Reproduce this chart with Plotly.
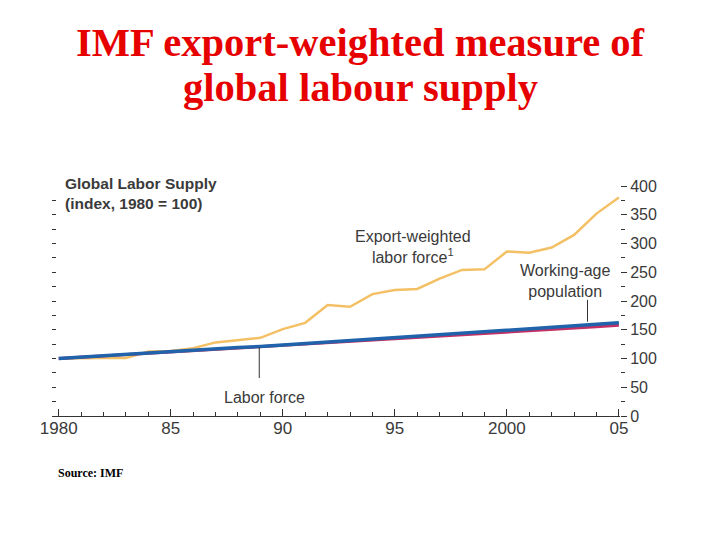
import plotly.graph_objects as go

years = list(range(1980, 2006))
export_weighted = [100, 101, 101, 101, 112, 113, 118, 128, 132, 136, 151, 162, 193, 190,
                   212, 219, 221, 239, 254, 255, 286, 284, 293, 315, 352, 380]
labor_force = [100, 102.5, 105, 107.5, 110, 112, 114.5, 116.5, 119, 121, 123.5, 126, 128.5, 131,
               133.5, 136, 138.5, 141, 143.5, 146, 148.5, 151, 153.5, 156, 159, 162]
working_age = [100, 102.3, 104.6, 107, 109.3, 111.5, 113.8, 116, 118.3, 120.5, 122.8, 125, 127.3, 129.5,
               131.8, 134, 136.3, 138.5, 140.8, 143, 145.3, 147.5, 150, 152.5, 155, 158]

x_tickvals = [1980, 1985, 1990, 1995, 2000, 2005]
x_ticktext = ['1980', '85', '90', '95', '2000', '05']

title_lines = ['IMF export-weighted measure of', 'global labour supply']

SANS = 'Liberation Sans, Arial, Helvetica, sans-serif'
SERIF = 'Liberation Serif, Times New Roman, serif'
TXT = '#3a3a3a'

fig = go.Figure()

fig.add_trace(go.Scatter(x=years, y=export_weighted, mode='lines',
                         line=dict(color='#f4c065', width=2.5), hoverinfo='skip'))
fig.add_trace(go.Scatter(x=years, y=working_age, mode='lines',
                         line=dict(color='#c42f66', width=3), hoverinfo='skip'))
fig.add_trace(go.Scatter(x=years, y=labor_force, mode='lines',
                         line=dict(color='#2163aa', width=3.5), hoverinfo='skip'))
# invisible trace to carry the left tick axis
fig.add_trace(go.Scatter(x=[1980], y=[100], yaxis='y2', mode='markers',
                         marker=dict(opacity=0), hoverinfo='skip'))

# leader lines
fig.add_shape(type='line', x0=1988.95, x1=1988.95, y0=66, y1=120,
              line=dict(color='#333', width=1))
fig.add_shape(type='line', x0=2003.6, x1=2003.6, y0=164, y1=202,
              line=dict(color='#333', width=1))

fig.add_annotation(x=1995.8, y=294, text='Export-weighted<br>labor force<sup>1</sup>',
                   showarrow=False, font=dict(family=SANS, size=16, color=TXT))
fig.add_annotation(x=2002.6, y=235, text='Working-age<br>population',
                   showarrow=False, font=dict(family=SANS, size=16, color=TXT))
fig.add_annotation(x=1989.2, y=33, text='Labor force',
                   showarrow=False, font=dict(family=SANS, size=16, color=TXT))
fig.add_annotation(x=0.0194, y=1.055, xref='paper', yref='paper', xanchor='left', yanchor='top',
                   text='<b>Global Labor Supply<br>(index, 1980 = 100)</b>', align='left',
                   showarrow=False, font=dict(family=SANS, size=15.5, color=TXT))
fig.add_annotation(x=0.007, y=-0.287, xref='paper', yref='paper', xanchor='left',
                   text='<b>Source: IMF</b>', showarrow=False,
                   font=dict(family=SERIF, size=12, color='#000'))

# title, one annotation per line
for line, ypos in zip(title_lines, [1.7304, 1.5347]):
    fig.add_annotation(x=0.5423, y=ypos, xref='paper', yref='paper',
                       text='<b>' + line + '</b>', showarrow=False,
                       font=dict(family=SERIF, size=40.5, color='#e60000'))

# the page body has an 8px margin, so the figure is 712x532
fig.update_layout(
    width=712, height=532,
    margin=dict(l=44, r=100, t=178, b=124),
    paper_bgcolor='white', plot_bgcolor='white',
    showlegend=False,
    xaxis=dict(range=[1979.7, 2005.05], tickvals=x_tickvals, ticktext=x_ticktext,
               ticks='inside', ticklen=7, tickcolor='#333',
               minor=dict(dtick=1, tick0=1980, ticks='inside', ticklen=4, tickcolor='#333'),
               showline=True, linecolor='#333', linewidth=1.2,
               showgrid=False, zeroline=False, ticklabelstandoff=-4,
               tickfont=dict(family=SANS, size=17, color=TXT)),
    yaxis=dict(range=[0, 400], side='right', dtick=50, tick0=0,
               ticks='outside', ticklen=6, tickcolor='#333',
               minor=dict(dtick=25, ticks='outside', ticklen=4, tickcolor='#333'),
               showline=False, showgrid=False, zeroline=False,
               tickfont=dict(family=SANS, size=16, color=TXT)),
    yaxis2=dict(range=[0, 400], overlaying='y', side='left', anchor='x',
                tickvals=list(range(0, 401, 25)), ticks='inside', ticklen=4, tickcolor='#333',
                showticklabels=False, showline=False, showgrid=False, zeroline=False),
)

fig.write_html("out.html")
